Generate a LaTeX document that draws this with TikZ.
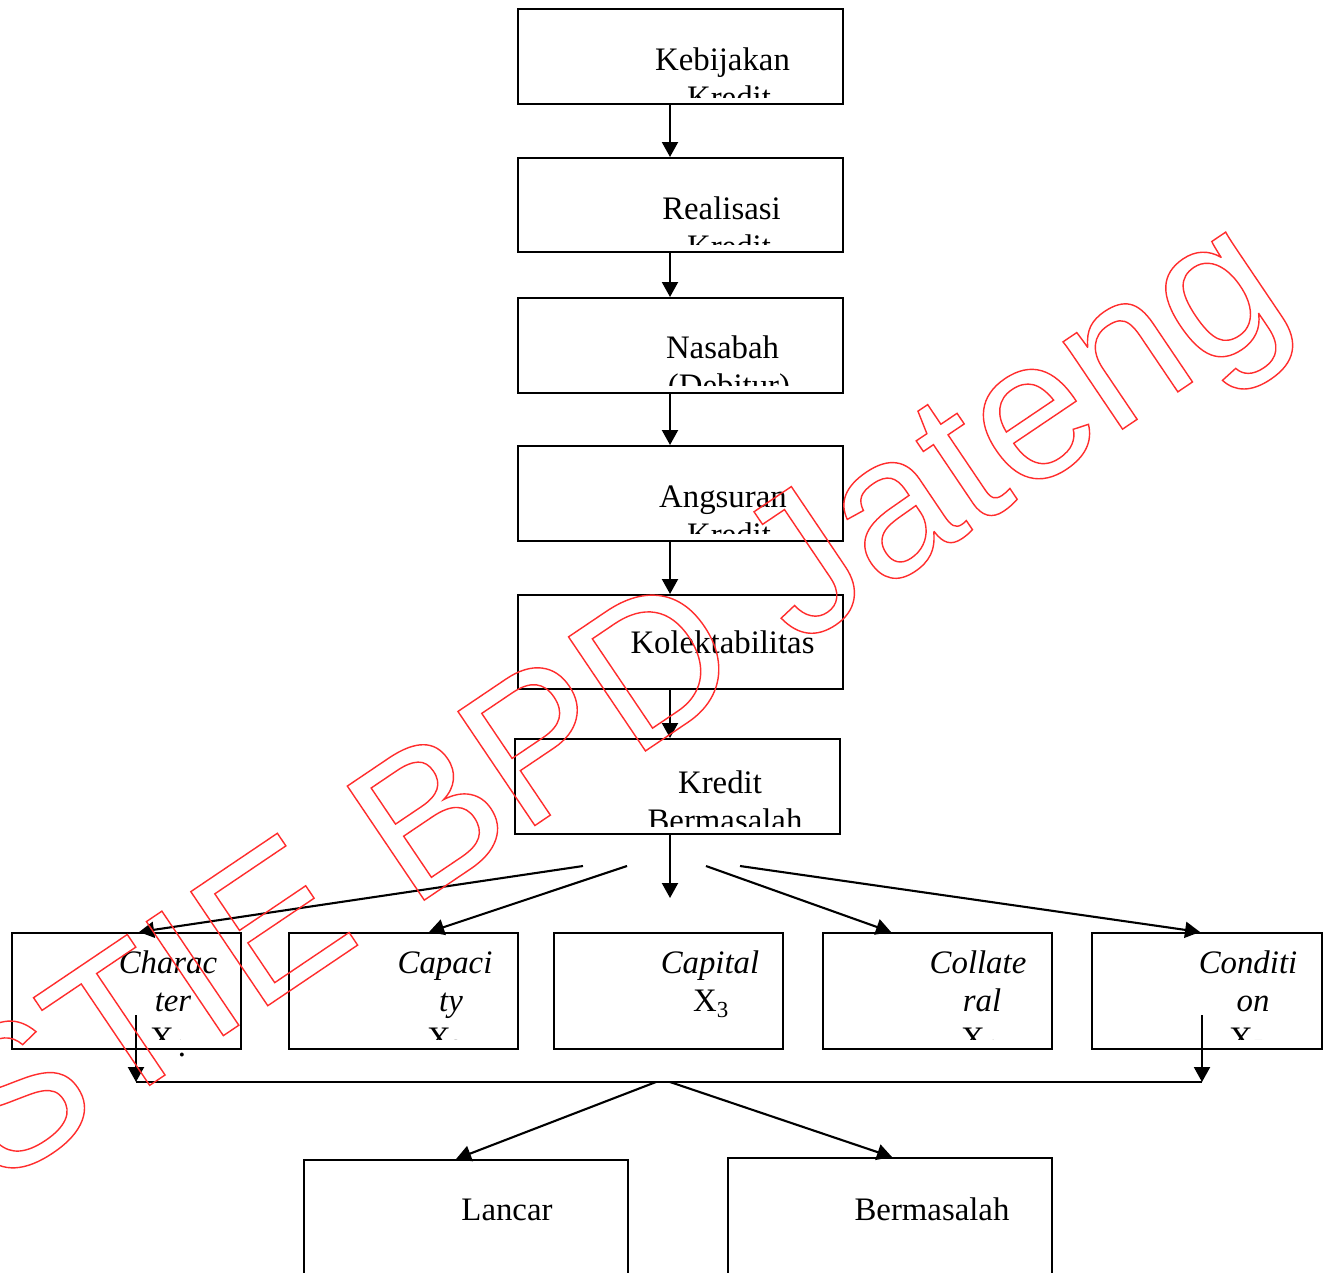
\documentclass[tikz,border=0pt]{standalone}
\usepackage{fontspec}
\setmainfont{Liberation Serif}
\newfontfamily\wmfont{Liberation Sans}
\usetikzlibrary{arrows.meta}
\definecolor{wmred}{RGB}{255,45,45}
\begin{document}
\begin{tikzpicture}[x=1pt,y=-1pt,
  box/.style={draw, line width=2.1pt, inner sep=0pt, anchor=north west},
  txt/.style={inner sep=0pt, anchor=base, font=\fontsize{32.8}{39}\selectfont},
  itx/.style={inner sep=0pt, anchor=base, font=\fontsize{32.8}{39}\selectfont\itshape},
  arr/.style={line width=2.1pt, -{Triangle[length=15pt,width=16pt]}},
  ln/.style={line width=2.1pt}]
\useasboundingbox (0,0) rectangle (1330,1272);
\fill[white] (0,0) rectangle (1330,1272);

% ---------- main chain boxes ----------
\node[box, minimum width=325pt, minimum height=95pt] (kb) at (517,8) {};
\node[box, minimum width=325pt, minimum height=94pt] (rk) at (517,157) {};
\node[box, minimum width=325pt, minimum height=95pt] (ns) at (517,297) {};
\node[box, minimum width=325pt, minimum height=95pt] (ag) at (517,445) {};
\node[box, minimum width=325pt, minimum height=94pt] (kl) at (517,594) {};
\node[box, minimum width=325pt, minimum height=95pt] (kr) at (514,738) {};

\begin{scope}
\clip (kb.north west) rectangle ([yshift=8pt]kb.south east);
\node[txt] (kbt1) at (722.5,70) {Kebijakan};
\node[txt] (kbt2) at (729,108) {Kredit};
\end{scope}
\begin{scope}
\clip (rk.north west) rectangle ([yshift=9pt]rk.south east);
\node[txt] (rkt1) at (721.5,219) {Realisasi};
\node[txt] (rkt2) at (729,257) {Kredit};
\end{scope}
\begin{scope}
\clip (ns.north west) rectangle ([yshift=9pt]ns.south east);
\node[txt] (nst1) at (722.5,358) {Nasabah};
\node[txt] (nst2) at (729,396) {(Debitur)};
\end{scope}
\begin{scope}
\clip (ag.north west) rectangle ([yshift=9pt]ag.south east);
\node[txt] (agt1) at (723,507) {Angsuran};
\node[txt] (agt2) at (729,545) {Kredit};
\end{scope}
\node[txt] (klt1) at (722.5,653) {Kolektabilitas};
\begin{scope}
\clip (kr.north west) rectangle ([yshift=9pt]kr.south east);
\node[txt] (krt1) at (720,793) {Kredit};
\node[txt] (krt2) at (725,831) {Bermasalah};
\end{scope}

% ---------- five C boxes ----------
\node[box, minimum width=229pt, minimum height=116pt] (ch) at (11,932) {};
\node[box, minimum width=229pt, minimum height=116pt] (cp) at (288,932) {};
\node[box, minimum width=229pt, minimum height=116pt] (ct) at (553,932) {};
\node[box, minimum width=229pt, minimum height=116pt] (cl) at (822,932) {};
\node[box, minimum width=230pt, minimum height=116pt] (cd) at (1091,932) {};

\begin{scope}
\clip (ch.north west) rectangle ([yshift=11pt]ch.south east);
\node[itx] (cht1) at (168,973) {Charac};
\node[itx] (cht2) at (173,1011) {ter};
\node[txt] (cht3) at (168,1049) {X\textsubscript{1}};
\end{scope}
\node[txt, anchor=center] (chdot) at (182,1055) {.};
\begin{scope}
\clip (cp.north west) rectangle ([yshift=11pt]cp.south east);
\node[itx] (cpt1) at (445,973) {Capaci};
\node[itx] (cpt2) at (451,1011) {ty};
\node[txt] (cpt3) at (445,1049) {X\textsubscript{2}};
\end{scope}
\node[itx] (ctt1) at (710,973) {Capital};
\node[txt] (ctt2) at (711,1011) {X\textsubscript{3}};
\begin{scope}
\clip (cl.north west) rectangle ([yshift=11pt]cl.south east);
\node[itx] (clt1) at (978,973) {Collate};
\node[itx] (clt2) at (982,1011) {ral};
\node[txt] (clt3) at (979,1049) {X\textsubscript{4}};
\end{scope}
\begin{scope}
\clip (cd.north west) rectangle ([yshift=11pt]cd.south east);
\node[itx] (cdt1) at (1248,973) {Conditi};
\node[itx] (cdt2) at (1253,1011) {on};
\node[txt] (cdt3) at (1247,1049) {X\textsubscript{5}};
\end{scope}

% ---------- result boxes ----------
\node[box, minimum width=324pt, minimum height=130pt] (lc) at (303,1159) {};
\node[box, minimum width=324pt, minimum height=130pt] (bm) at (727,1157) {};
\node[txt] (lct) at (507,1220) {Lancar};
\node[txt] (bmt) at (932,1220) {Bermasalah};

% ---------- connectors ----------
\coordinate (ax) at (670,0);
\draw[arr] (kb.south -| ax) -- (rk.north -| ax);
\draw[arr] (rk.south -| ax) -- (ns.north -| ax);
\draw[arr] (ns.south -| ax) -- (ag.north -| ax);
\draw[arr] (ag.south -| ax) -- (kl.north -| ax);
\draw[arr] (kl.south -| ax) -- (kr.north -| ax);

\coordinate (kd) at (670,898);
\draw[arr] (kr.south -| ax) -- (kd);

\coordinate (f1) at (583,866);
\coordinate (f2) at (627,866);
\coordinate (f4) at (706,866);
\coordinate (f5) at (740,866);
\draw[arr] (f1) -- ([xshift=12.5pt]ch.north);
\draw[arr] (f2) -- ([xshift=25.5pt]cp.north);
\draw[arr] (f4) -- ([xshift=-46.5pt]cl.north);
\draw[arr] (f5) -- ([xshift=-7pt]cd.north);

\coordinate (c1) at (136,1015);
\coordinate (c5) at (1202,1015);
\coordinate (h1) at (136,1082);
\coordinate (h5) at (1202,1082);
\draw[ln] (h1) -- (h5);
\draw[arr] (c1) -- (h1);
\draw[arr] (c5) -- (h5);

\coordinate (m1) at (656,1082);
\coordinate (m2) at (670,1082);
\draw[arr] (m1) -- ([xshift=-10pt]lc.north);
\draw[arr] (m2) -- ([xshift=2pt]bm.north);

% ---------- watermark ----------
\node[inner sep=0pt, anchor=base west, rotate=34, text=wmred,
      font=\wmfont\fontsize{200}{200}\selectfont] (wm) at (-4,1189)
  {\special{pdf:literal direct 1 Tr 1.4 w}STIE BPD Jateng\special{pdf:literal direct 0 Tr}};
\end{tikzpicture}
\end{document}
